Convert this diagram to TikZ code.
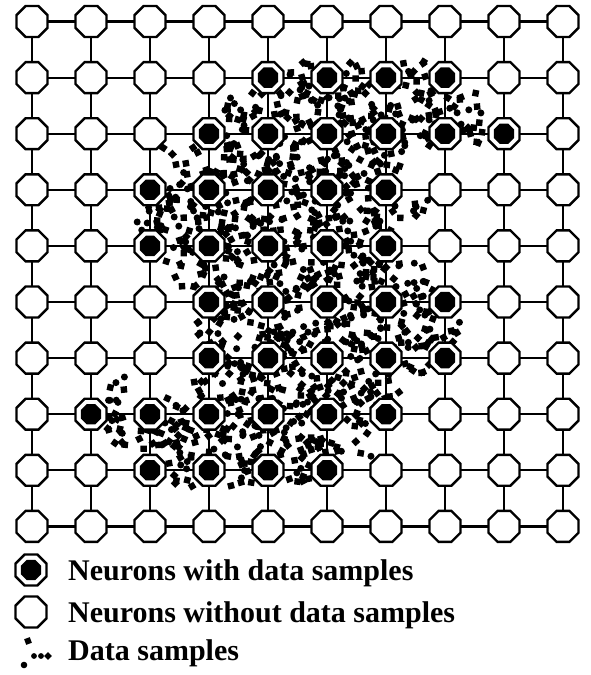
\documentclass[tikz,border=0pt]{standalone}
\usepackage{fontspec}
\setmainfont{Liberation Serif}
\usetikzlibrary{shapes.geometric}
\pgfdeclarelayer{edges}
\pgfdeclarelayer{dots}
\pgfsetlayers{edges,dots,main}
\newcommand\dsblobs[5]{%
  \foreach \i in {1,...,#3}{%
    \pgfmathsetmacro\px{32+59*(#1-1)+#4*rand}%
    \pgfmathsetmacro\py{21.5+56.1*(#2-1)+#5*rand}%
    \pgfmathsetmacro\rt{rnd*90}%
    \pgfmathtruncatemacro\k{rnd*3}%
    \ifnum\k=0
      \fill (\px,\py) circle (3.5pt);
    \else
      \fill[shift={(\px,\py)},rotate=\rt] (-3.2,-3.2) rectangle (3.2,3.2);
    \fi
  }}
\begin{document}
\begin{tikzpicture}[x=1pt,y=-1pt,
  neuron/.style={regular polygon, regular polygon sides=8, minimum size=33.5pt,
    inner sep=0pt, outer sep=0pt, draw=black, line width=2.4pt, fill=white},
  core/.style={regular polygon, regular polygon sides=8, minimum size=22pt,
    inner sep=0pt, fill=black},
  link/.style={line width=2.2pt},
  legtext/.style={anchor=base west, inner sep=0pt,
    font=\bfseries\fontsize{30}{34}\selectfont}]
\useasboundingbox (0,0) rectangle (590,675);
% neurons
\foreach \c in {1,...,10}{
  \foreach \r in {1,...,10}{
    \node[neuron] (n-\c-\r) at ({32+59*(\c-1)},{21.5+56.1*(\r-1)}) {};
  }
}
% filled neurons (row / first column / last column)
\foreach \r/\a/\b in {2/5/8,3/4/9,4/3/7,5/3/7,6/4/8,7/4/8,8/2/7,9/3/6}{
  \foreach \c in {\a,...,\b}{
    \node[core] at (n-\c-\r) {};
  }
}
% connectors
\begin{pgfonlayer}{edges}
\foreach \r in {1,...,10}{
  \foreach \c [count=\d from 2] in {1,...,9}{
    \draw[link] (n-\c-\r) -- (n-\d-\r);
    \draw[link] (n-\r-\c) -- (n-\r-\d);
  }
}
\end{pgfonlayer}
% data samples
\pgfmathsetseed{4242}
\begin{pgfonlayer}{dots}
\foreach \r/\a/\b in {2/5/8,3/4/9,4/3/7,5/3/7,6/4/8,7/4/8,8/2/7,9/3/6}{
  \pgfmathtruncatemacro\bb{\b-1}
  \foreach \c in {\a,...,\bb}{
    \pgfmathsetmacro\g{\c+0.5}
    \dsblobs{\g}{\r}{10}{14}{16}
  }
}
\foreach \r/\a/\b in {2/5/8,3/4/7,4/3/7,5/4/7,6/4/8,7/4/7,8/3/6}{
  \pgfmathsetmacro\h{\r+0.5}
  \foreach \c in {\a,...,\b}{
    \dsblobs{\c}{\h}{10}{16}{13}
  }
  \pgfmathtruncatemacro\bb{\b-1}
  \foreach \c in {\a,...,\bb}{
    \pgfmathsetmacro\g{\c+0.5}
    \dsblobs{\g}{\h}{16}{22}{20}
  }
}
% partial cells at the border of the cloud
\dsblobs{4.5}{2.5}{10}{20}{16}
\dsblobs{3.5}{3.5}{7}{18}{16}
\dsblobs{7.5}{4.5}{6}{16}{18}
\dsblobs{7.5}{5.5}{9}{18}{18}
\dsblobs{3.5}{5.5}{5}{16}{16}
\dsblobs{2.5}{7.5}{6}{16}{16}
\dsblobs{2.5}{8.5}{6}{18}{14}
\dsblobs{6.5}{8.5}{5}{16}{14}
\dsblobs{8.5}{2.5}{5}{16}{14}
\end{pgfonlayer}
% legend
\node[neuron] (leg1) at (31,570) {};
\node[core] at (leg1) {};
\node[neuron] (leg2) at (31,612) {};
\fill[rotate around={20:(28,641)}] (25,638) rectangle (31,644);
\fill (34,656) circle (2.9pt);
\fill (24,665) circle (3.3pt);
\fill (41,656) circle (2.9pt);
\fill[rotate around={45:(48,656)}] (45.3,653.3) rectangle (50.7,658.7);
\node[legtext] (t1) at (68,580) {Neurons with data samples};
\node[legtext] (t2) at (68,622) {Neurons without data samples};
\node[legtext] (t3) at (68,660) {Data samples};
\end{tikzpicture}
\end{document}
